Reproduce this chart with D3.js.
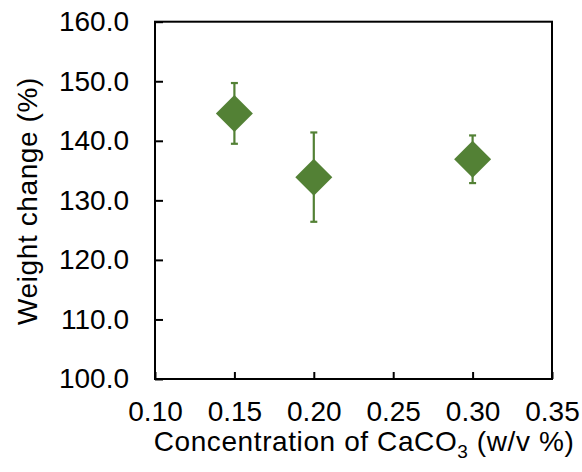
<!DOCTYPE html>
<html>
<head>
<meta charset="utf-8">
<script src="https://cdn.jsdelivr.net/npm/d3@7"></script>
<style>
    body { margin: 0; background: #fff; }
    svg text { font-family: "Liberation Sans", Arial, sans-serif; fill: #000; }
</style>
</head>
<body>
<svg id="view" width="582" height="472"></svg>
<script>
const Concentration = [0.15, 0.20, 0.30];
const WeightChange = [144.6, 133.9, 136.9];
const ErrorSize = [5.1, 7.5, 4.0];
const XTicks = [0.10, 0.15, 0.20, 0.25, 0.30, 0.35];
const YTicks = [100, 110, 120, 130, 140, 150, 160];

const GREEN = '#538135';

function drawChart() {
    var svg = d3.select('svg#view');
    const left = 155, right = 552, top = 21.7, bottom = 379;

    var xScale = d3.scaleLinear().domain([0.10, 0.35]).range([left, right]);
    var yScale = d3.scaleLinear().domain([100, 160]).range([bottom, top]);

    // frame
    svg.append('rect')
        .attr('x', left)
        .attr('y', top)
        .attr('width', right - left)
        .attr('height', bottom - top)
        .attr('fill', 'none')
        .attr('stroke', '#000')
        .attr('stroke-width', 2);

    // x axis, ticks inward
    var xAxis = d3.axisBottom(xScale)
        .tickValues(XTicks)
        .tickSize(-7)
        .tickPadding(22)
        .tickFormat(d3.format('.2f'));
    var gx = svg.append('g')
        .attr('transform', 'translate(0,' + bottom + ')')
        .call(xAxis);
    gx.select('.domain').remove();
    gx.selectAll('line').attr('stroke', '#000').attr('stroke-width', 2);
    gx.selectAll('text').attr('font-size', 28).attr('fill', '#000');

    // y axis, ticks inward
    var yAxis = d3.axisLeft(yScale)
        .tickValues(YTicks)
        .tickSize(-8)
        .tickPadding(26)
        .tickFormat(d3.format('.1f'));
    var gy = svg.append('g')
        .attr('transform', 'translate(' + left + ',0)')
        .call(yAxis);
    gy.select('.domain').remove();
    gy.selectAll('line').attr('stroke', '#000').attr('stroke-width', 2);
    gy.selectAll('text').attr('font-size', 28).attr('fill', '#000');

    // error bars
    var points = Concentration.map(function(c, i) {
        return { x: c, y: WeightChange[i], e: ErrorSize[i] };
    });
    var bars = svg.append('g').attr('class', 'errors')
        .selectAll('g')
        .data(points)
        .enter()
        .append('g')
        .attr('stroke', GREEN)
        .attr('stroke-width', 2.2);
    bars.append('line')
        .attr('x1', function(d) { return xScale(d.x); })
        .attr('x2', function(d) { return xScale(d.x); })
        .attr('y1', function(d) { return yScale(d.y + d.e); })
        .attr('y2', function(d) { return yScale(d.y - d.e); });
    [1, -1].forEach(function(s) {
        bars.append('line')
            .attr('x1', function(d) { return xScale(d.x) - 3.5; })
            .attr('x2', function(d) { return xScale(d.x) + 3.5; })
            .attr('y1', function(d) { return yScale(d.y + s * d.e); })
            .attr('y2', function(d) { return yScale(d.y + s * d.e); });
    });

    // diamond markers
    const r = 18.5;
    svg.append('g').attr('class', 'points')
        .selectAll('path')
        .data(points)
        .enter()
        .append('path')
        .attr('transform', function(d) {
            return 'translate(' + xScale(d.x) + ',' + yScale(d.y) + ')';
        })
        .attr('d', 'M0,' + (-r) + 'L' + r + ',0L0,' + r + 'L' + (-r) + ',0Z')
        .attr('fill', GREEN);

    // axis titles
    var xt = svg.append('text')
        .attr('x', 364)
        .attr('y', 451)
        .attr('text-anchor', 'middle')
        .attr('letter-spacing', 0.6)
        .attr('font-size', 28);
    xt.append('tspan').text('Concentration of CaCO');
    xt.append('tspan').attr('font-size', 19).attr('dy', 7).text('3');
    xt.append('tspan').attr('dy', -7).text(' (w/v %)');

    svg.append('text')
        .attr('transform', 'translate(37,' + 201 + ') rotate(-90)')
        .attr('text-anchor', 'middle')
        .attr('letter-spacing', 0.6)
        .attr('font-size', 28)
        .text('Weight change (%)');
}

drawChart();
</script>
</body>
</html>
